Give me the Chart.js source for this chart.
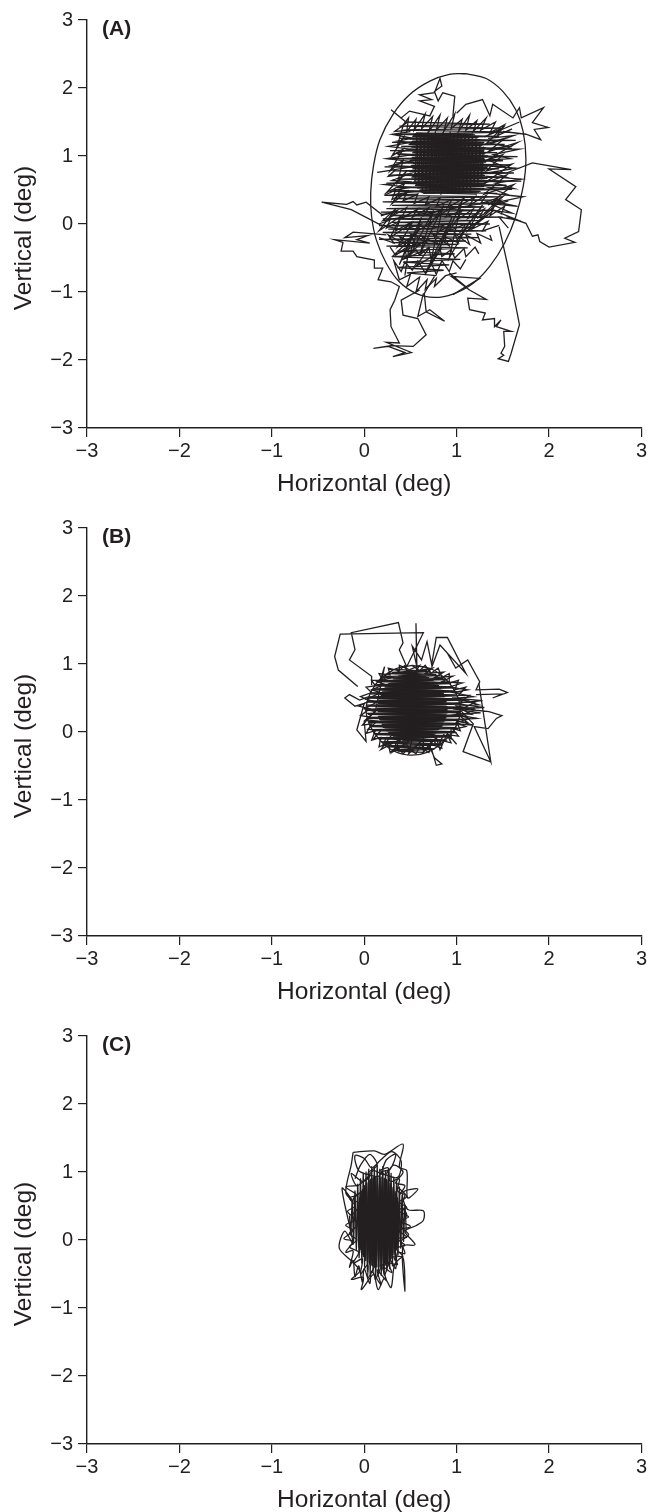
<!DOCTYPE html>
<html>
<head>
<meta charset="utf-8">
<style>
html, body { margin: 0; padding: 0; background: #fff; }
.panel { position: absolute; left: 0; width: 649px; height: 504px; }
</style>
<script src="https://cdn.jsdelivr.net/npm/chart.js@4/dist/chart.umd.min.js"></script>
</head>
<body>
<div class="panel" style="top:0"><canvas id="chartA" width="649" height="504"></canvas></div>
<div class="panel" style="top:508px"><canvas id="chartB" width="649" height="504"></canvas></div>
<div class="panel" style="top:1016px"><canvas id="chartC" width="649" height="504"></canvas></div>
<script>
// axis ticks and titles
const tickValues = [-3, -2, -1, 0, 1, 2, 3];
const xTitle = 'Horizontal (deg)';
const yTitle = 'Vertical (deg)';
const panelLabels = ['(A)', '(B)', '(C)'];

// fixation ellipses, [horizontal, vertical] in deg
const ellipseA = [[1.10,2.21],[1.32,2.14],[1.50,1.95],[1.64,1.68],[1.72,1.36],[1.75,0.95],[1.72,0.55],[1.64,0.11],[1.52,-0.28],[1.36,-0.62],[1.18,-0.87],[0.96,-1.03],[0.76,-1.08],[0.56,-1.02],[0.38,-0.85],[0.24,-0.58],[0.13,-0.23],[0.08,0.11],[0.07,0.46],[0.10,0.85],[0.17,1.24],[0.31,1.61],[0.49,1.90],[0.71,2.10],[0.92,2.20],[1.10,2.21]];
const ellipseB = [[0.52,0.98],[0.72,0.93],[0.88,0.78],[1.00,0.55],[1.04,0.30],[0.98,0.05],[0.85,-0.15],[0.68,-0.30],[0.50,-0.34],[0.32,-0.28],[0.17,-0.12],[0.06,0.10],[0.02,0.34],[0.07,0.58],[0.18,0.79],[0.34,0.93],[0.52,0.98]];

// panel A: eye trace pieces
const coreRowsA = [[0.56,1.34],[1.18,1.32],[0.53,1.30],[1.24,1.28],[0.50,1.26],[1.26,1.24],[0.52,1.22],[1.30,1.20],[0.49,1.18],[1.28,1.16],[0.52,1.14],[1.32,1.12],[0.50,1.10],[1.30,1.08],[0.53,1.06],[1.30,1.04],[0.50,1.02],[1.34,1.00],[0.52,0.98],[1.30,0.96],[0.50,0.94],[1.32,0.92],[0.54,0.90],[1.30,0.88],[0.51,0.86],[1.34,0.84],[0.53,0.82],[1.30,0.80],[0.50,0.78],[1.32,0.76],[0.54,0.74],[1.30,0.72],[0.52,0.70],[1.34,0.68],[0.55,0.66],[1.30,0.64],[0.53,0.62],[1.32,0.60],[0.56,0.58],[1.28,0.56],[0.58,0.54],[1.30,0.52],[0.60,0.50],[1.26,0.48],[0.62,0.46],[1.22,0.44]];
const coreRowsBackA = [[0.64,0.45],[1.24,0.47],[0.60,0.49],[1.27,0.51],[0.57,0.53],[1.30,0.55],[0.55,0.57],[1.31,0.59],[0.52,0.61],[1.30,0.63],[0.54,0.65],[1.33,0.67],[0.51,0.69],[1.31,0.71],[0.53,0.73],[1.32,0.75],[0.49,0.77],[1.31,0.79],[0.52,0.81],[1.33,0.83],[0.50,0.85],[1.31,0.87],[0.53,0.89],[1.32,0.91],[0.49,0.93],[1.31,0.95],[0.51,0.97],[1.33,0.99],[0.49,1.01],[1.31,1.03],[0.52,1.05],[1.29,1.07],[0.49,1.09],[1.31,1.11],[0.51,1.13],[1.27,1.15],[0.48,1.17],[1.29,1.19],[0.51,1.21],[1.25,1.23],[0.49,1.25],[1.23,1.27],[0.52,1.29],[1.20,1.31],[0.55,1.33]];
const coreColsA = [[0.55,0.62],[0.57,1.30],[0.59,0.56],[0.61,1.34],[0.63,0.50],[0.65,1.32],[0.67,0.48],[0.69,1.36],[0.71,0.46],[0.73,1.33],[0.75,0.44],[0.77,1.36],[0.79,0.46],[0.81,1.32],[0.83,0.43],[0.85,1.35],[0.87,0.46],[0.89,1.33],[0.91,0.44],[0.93,1.36],[0.95,0.47],[0.97,1.32],[0.99,0.45],[1.01,1.34],[1.03,0.48],[1.05,1.31],[1.07,0.46],[1.09,1.33],[1.11,0.50],[1.13,1.30],[1.15,0.48],[1.17,1.28],[1.19,0.54],[1.21,1.26],[1.23,0.60],[1.25,1.20],[1.27,0.66],[1.29,1.14]];
const wideRowsA = [[0.44,1.50],[1.36,1.47],[0.38,1.44],[1.48,1.41],[0.42,1.38],[1.58,1.35],[0.34,1.32],[1.46,1.29],[0.38,1.26],[1.64,1.23],[0.30,1.20],[1.52,1.17],[0.40,1.14],[1.60,1.11],[0.28,1.08],[1.44,1.05],[0.36,1.02],[1.66,0.99],[0.26,0.96],[1.50,0.93],[0.34,0.90],[1.58,0.87],[0.22,0.84],[1.46,0.81],[0.32,0.78],[1.62,0.75],[0.26,0.72],[1.48,0.69],[0.36,0.66],[1.70,0.63],[0.24,0.60],[1.54,0.57],[0.34,0.54],[1.60,0.51],[0.28,0.48],[1.44,0.45]];
const lowerRowsA = [[0.22,0.42],[1.50,0.40],[0.32,0.375],[1.38,0.35],[0.20,0.325],[1.46,0.30],[0.30,0.275],[1.30,0.25],[0.24,0.225],[1.42,0.20],[0.18,0.175],[1.28,0.15],[0.28,0.125],[1.50,0.10],[0.20,0.075],[1.24,0.05],[0.30,0.025],[1.36,0.00],[0.16,-0.025],[1.20,-0.05],[0.26,-0.075],[1.32,-0.10],[0.20,-0.125],[1.16,-0.15],[0.28,-0.175],[1.24,-0.20],[0.16,-0.225],[1.10,-0.25],[0.30,-0.275],[1.02,-0.30],[0.24,-0.325],[1.12,-0.35],[0.36,-0.40],[0.98,-0.44],[0.30,-0.48],[1.04,-0.52],[0.42,-0.56],[0.92,-0.60],[0.36,-0.64],[0.86,-0.68],[0.46,-0.72],[0.78,-0.76]];
const topBandA = [[0.40,1.42],[0.48,1.56],[0.46,1.36],[0.56,1.54],[0.54,1.38],[0.66,1.62],[0.62,1.40],[0.74,1.58],[0.70,1.36],[0.82,1.60],[0.78,1.38],[0.90,1.56],[0.86,1.36],[0.98,1.62],[0.94,1.40],[1.06,1.54],[1.02,1.36],[1.14,1.60],[1.10,1.38],[1.22,1.52],[1.18,1.36],[1.32,1.56],[1.26,1.38],[1.42,1.50],[1.36,1.34],[1.52,1.46],[1.44,1.30],[1.60,1.40]];
const rightBandA = [[1.34,1.26],[1.62,1.30],[1.36,1.18],[1.56,1.14],[1.32,1.10],[1.68,1.10],[1.40,1.02],[1.58,0.96],[1.34,0.94],[1.52,0.84],[1.30,0.86],[1.64,0.82],[1.38,0.76],[1.56,0.68],[1.32,0.70],[1.70,0.66],[1.42,0.60],[1.62,0.52],[1.34,0.54],[1.58,0.42],[1.30,0.46],[1.72,0.40],[1.44,0.32],[1.66,0.26],[1.36,0.30],[1.60,0.16],[1.40,0.20],[1.66,0.06],[1.46,0.10],[1.56,-0.06]];
const rightStreaksA = [[1.30,0.16],[1.50,0.40],[1.34,0.28],[1.62,0.58],[1.30,0.44],[1.54,0.72],[1.30,0.60],[1.60,0.88],[1.32,0.78],[1.50,1.02],[1.30,0.92],[1.66,1.20],[1.34,1.06],[1.52,1.26],[1.32,1.18],[1.50,1.42],[1.30,1.28],[1.68,1.50]];
const leftBandA = [[0.50,1.36],[0.30,1.32],[0.52,1.26],[0.36,1.22],[0.50,1.20],[0.26,1.14],[0.50,1.10],[0.34,1.04],[0.52,1.02],[0.24,0.96],[0.50,0.92],[0.30,0.86],[0.52,0.84],[0.14,0.76],[0.34,0.80],[0.26,0.70],[0.50,0.74],[0.30,0.64],[0.52,0.62],[0.22,0.58],[0.50,0.54],[0.32,0.50],[0.56,0.48],[0.26,0.42],[0.58,0.44]];
const leftStreaksA = [[0.42,1.44],[0.36,1.16],[0.44,1.30],[0.30,1.00],[0.42,1.10],[0.28,0.78],[0.42,0.94],[0.36,0.60],[0.46,0.78],[0.24,0.46],[0.44,0.60],[0.30,0.30],[0.48,0.50]];
const lowRow1A = [[0.22,0.42],[0.34,0.50],[0.30,0.36],[0.46,0.46],[0.42,0.34],[0.58,0.44],[0.54,0.30],[0.70,0.40],[0.66,0.28],[0.82,0.38],[0.78,0.26],[0.95,0.36],[0.90,0.24],[1.08,0.38],[1.02,0.26],[1.20,0.40],[1.14,0.28],[1.32,0.42],[1.26,0.30],[1.44,0.38],[1.38,0.26],[1.56,0.34]];
const lowRow2A = [[1.48,0.14],[1.52,0.26],[1.36,0.12],[1.40,0.24],[1.24,0.10],[1.30,0.22],[1.12,0.08],[1.18,0.22],[1.00,0.06],[1.06,0.20],[0.88,0.10],[0.94,0.24],[0.76,0.08],[0.82,0.20],[0.64,0.12],[0.70,0.24],[0.52,0.10],[0.58,0.22],[0.40,0.08],[0.46,0.24],[0.28,0.10],[0.36,0.20],[0.18,0.12]];
const lowRow3A = [[0.16,0.00],[0.28,0.06],[0.24,-0.06],[0.38,0.04],[0.34,-0.10],[0.50,0.02],[0.44,-0.08],[0.62,0.00],[0.56,-0.12],[0.74,0.04],[0.68,-0.08],[0.86,-0.02],[0.80,-0.12],[0.98,0.02],[0.92,-0.10],[1.10,0.00],[1.04,-0.12],[1.22,0.02],[1.16,-0.08],[1.34,0.04],[1.28,-0.10],[1.46,-0.02]];
const lowRow4A = [[1.36,-0.16],[1.38,-0.24],[1.22,-0.14],[1.26,-0.28],[1.10,-0.16],[1.14,-0.30],[0.98,-0.14],[1.02,-0.28],[0.86,-0.18],[0.92,-0.32],[0.74,-0.14],[0.80,-0.30],[0.62,-0.18],[0.68,-0.28],[0.50,-0.14],[0.56,-0.32],[0.38,-0.18],[0.44,-0.30],[0.26,-0.16],[0.32,-0.28],[0.16,-0.20]];
const lowRow5A = [[0.28,-0.34],[0.34,-0.46],[0.44,-0.36],[0.46,-0.50],[0.56,-0.38],[0.60,-0.46],[0.70,-0.34],[0.72,-0.50],[0.82,-0.36],[0.84,-0.48],[0.94,-0.38],[0.98,-0.50],[1.08,-0.36],[1.10,-0.48],[1.20,-0.34],[1.24,-0.44]];
const lowRow6A = [[1.10,-0.52],[1.04,-0.66],[0.96,-0.54],[0.92,-0.70],[0.84,-0.54],[0.78,-0.74],[0.72,-0.56],[0.66,-0.72],[0.58,-0.54],[0.52,-0.68],[0.44,-0.56],[0.40,-0.70],[0.32,-0.54],[0.38,-0.82],[0.50,-0.74],[0.46,-0.92],[0.60,-0.78],[0.56,-1.00],[0.68,-0.82],[0.66,-0.96],[0.78,-0.80],[0.76,-0.92],[0.88,-0.76],[1.00,-0.72]];
const lowerDiagA = [[0.44,-0.76],[0.50,-0.20],[0.38,-0.60],[0.62,0.10],[0.48,-0.50],[0.75,0.20],[0.60,-0.45],[0.85,0.25],[0.72,-0.55],[0.95,0.10],[0.80,-0.40],[1.05,0.30],[0.92,-0.50],[1.15,0.05],[1.00,-0.25],[1.28,0.28],[1.12,-0.10],[1.40,0.20],[1.20,0.00],[1.48,0.35],[0.20,0.05],[0.34,0.22],[0.16,-0.10],[0.40,0.12],[0.28,-0.20],[0.52,0.02],[0.36,-0.34],[0.58,-0.12],[0.32,-0.46],[0.62,-0.28],[0.42,-0.52],[0.70,-0.36],[0.56,-0.62],[0.78,-0.44],[0.66,-0.74],[0.84,-0.34]];
const rightLobeA = [[1.54,0.75],[1.82,0.90],[2.24,0.80],[2.00,0.81],[2.29,0.55],[2.18,0.36],[2.35,0.21],[2.32,-0.11],[2.17,-0.21],[2.28,-0.27],[2.00,-0.34],[1.90,-0.26],[1.88,-0.16],[1.82,-0.18],[1.75,0.01],[1.54,0.11]];
const rightTailA = [[1.46,-0.04],[1.57,-0.72],[1.68,-1.48],[1.59,-1.90],[1.56,-2.02],[1.45,-1.98],[1.51,-1.93],[1.48,-1.90],[1.52,-1.80],[1.51,-1.58],[1.59,-1.58],[1.43,-1.51],[1.48,-1.41],[1.41,-1.51],[1.41,-1.39],[1.28,-1.41],[1.31,-1.31],[1.14,-1.26],[1.12,-1.09],[1.32,-1.11],[1.14,-0.97],[0.94,-0.77],[1.25,-0.80],[0.96,-1.04],[1.10,-0.92],[0.92,-0.72]];
const leftArmA = [[0.31,0.16],[0.19,0.14],[0.02,0.32],[-0.08,0.28],[-0.12,0.33],[-0.19,0.29],[-0.46,0.32],[-0.14,0.21],[0.17,-0.01],[0.38,-0.08]];
const lowerLeftA = [[0.24,-0.16],[-0.12,-0.12],[-0.21,-0.20],[0.04,-0.17],[-0.08,-0.23],[0.06,-0.28],[-0.32,-0.23],[-0.23,-0.27],[-0.25,-0.40],[-0.12,-0.40],[-0.08,-0.48],[0.11,-0.53],[0.11,-0.65],[0.20,-0.65],[0.15,-0.82],[0.29,-0.85],[0.38,-0.92],[0.33,-1.12],[0.28,-1.26],[0.29,-1.51],[0.38,-1.75],[0.24,-1.74],[0.51,-1.89],[0.31,-1.95],[0.44,-1.89],[0.26,-1.80],[0.10,-1.83],[0.29,-1.79],[0.53,-1.80],[0.67,-1.63],[0.58,-1.39],[0.42,-1.34],[0.40,-1.12],[0.60,-0.97]];
const lowerMidA = [[0.64,-1.02],[0.58,-1.36],[0.71,-1.26],[0.87,-1.43],[0.67,-1.29],[0.65,-1.02],[0.76,-0.77]];
const topA = [[0.96,1.59],[0.98,1.88],[0.85,1.93],[0.80,1.81],[0.76,1.95],[0.84,2.03],[0.82,2.14],[0.76,1.93],[0.60,1.90],[0.73,1.83],[0.60,1.81],[0.76,1.73],[0.71,1.59],[0.49,1.66],[0.40,1.56],[0.29,1.68],[0.46,1.49],[0.33,1.36],[0.60,1.39]];
const topRightA = [[1.00,1.63],[1.10,1.76],[1.28,1.83],[1.36,1.59],[1.39,1.76],[1.61,1.56],[1.68,1.71],[1.70,1.56],[1.94,1.71],[1.82,1.49],[1.99,1.42],[1.84,1.39],[1.91,1.24],[1.75,1.32],[1.50,1.36]];
const traceA = [coreRowsA, coreRowsBackA, coreColsA, wideRowsA, lowerRowsA, topBandA, rightBandA, rightStreaksA, leftBandA, leftStreaksA, lowRow1A, lowRow2A, lowRow3A, lowRow4A, lowRow5A, lowRow6A, lowerDiagA, rightLobeA, rightTailA, leftArmA, lowerLeftA, lowerMidA, topA, topRightA];

// panel B: eye trace pieces
const coreRowsB = [[0.41,0.83],[0.67,0.81],[0.34,0.79],[0.73,0.77],[0.29,0.75],[0.77,0.73],[0.26,0.71],[0.80,0.69],[0.23,0.67],[0.82,0.65],[0.20,0.63],[0.85,0.61],[0.19,0.59],[0.86,0.57],[0.17,0.55],[0.88,0.53],[0.16,0.51],[0.89,0.49],[0.15,0.47],[0.89,0.45],[0.15,0.43],[0.90,0.41],[0.14,0.39],[0.90,0.37],[0.14,0.35],[0.90,0.33],[0.14,0.31],[0.90,0.29],[0.15,0.27],[0.89,0.25],[0.15,0.23],[0.89,0.21],[0.16,0.19],[0.88,0.17],[0.17,0.15],[0.86,0.13],[0.19,0.11],[0.85,0.09],[0.20,0.07],[0.82,0.05],[0.23,0.03],[0.80,0.01],[0.26,-0.01],[0.77,-0.03],[0.29,-0.05],[0.73,-0.07],[0.34,-0.09],[0.67,-0.11],[0.41,-0.13]];
const coreRowsBackB = [[0.62,-0.12],[0.37,-0.10],[0.70,-0.08],[0.31,-0.06],[0.75,-0.04],[0.27,-0.02],[0.79,0.00],[0.24,0.02],[0.81,0.04],[0.22,0.06],[0.84,0.08],[0.20,0.10],[0.85,0.12],[0.18,0.14],[0.87,0.16],[0.17,0.18],[0.88,0.20],[0.16,0.22],[0.89,0.24],[0.15,0.26],[0.90,0.28],[0.15,0.30],[0.90,0.32],[0.14,0.34],[0.90,0.36],[0.15,0.38],[0.89,0.40],[0.15,0.42],[0.89,0.44],[0.16,0.46],[0.88,0.48],[0.16,0.50],[0.87,0.52],[0.18,0.54],[0.86,0.56],[0.18,0.58],[0.85,0.60],[0.20,0.62],[0.83,0.64],[0.22,0.66],[0.81,0.68],[0.25,0.70],[0.78,0.72],[0.28,0.74],[0.75,0.76],[0.31,0.78],[0.70,0.80],[0.37,0.82],[0.62,0.84]];
const midRowsB = [[0.34,0.92],[0.72,0.89],[0.26,0.86],[0.82,0.83],[0.20,0.80],[0.90,0.77],[0.14,0.74],[0.94,0.71],[0.12,0.68],[1.00,0.65],[0.08,0.62],[1.06,0.59],[0.06,0.56],[1.02,0.53],[0.04,0.50],[1.14,0.47],[0.02,0.44],[1.06,0.41],[0.03,0.38],[1.20,0.35],[0.01,0.32],[1.04,0.29],[0.04,0.26],[1.12,0.23],[0.03,0.20],[1.02,0.17],[0.05,0.14],[1.08,0.11],[0.07,0.08],[0.98,0.05],[0.10,0.02],[1.00,-0.01],[0.12,-0.04],[0.94,-0.07],[0.16,-0.10],[0.90,-0.13],[0.20,-0.16],[0.84,-0.19],[0.26,-0.22],[0.76,-0.25],[0.36,-0.28],[0.64,-0.30]];
const midRowsBackB = [[0.54,-0.285],[0.30,-0.265],[0.72,-0.235],[0.22,-0.205],[0.80,-0.175],[0.18,-0.145],[0.88,-0.115],[0.14,-0.085],[0.92,-0.055],[0.10,-0.025],[0.98,0.005],[0.08,0.035],[1.00,0.065],[0.06,0.095],[1.02,0.125],[0.05,0.155],[1.04,0.185],[0.04,0.215],[1.06,0.245],[0.03,0.275],[1.04,0.305],[0.02,0.335],[1.06,0.365],[0.03,0.395],[1.02,0.425],[0.04,0.455],[1.04,0.485],[0.05,0.515],[1.00,0.545],[0.07,0.575],[0.98,0.605],[0.10,0.635],[0.96,0.665],[0.13,0.695],[0.92,0.725],[0.17,0.755],[0.86,0.785],[0.22,0.815],[0.78,0.845],[0.30,0.875],[0.68,0.905]];
const ringLap1B = [[0.52,0.98],[0.60,0.90],[0.66,0.98],[0.72,0.86],[0.80,0.94],[0.84,0.80],[0.92,0.86],[0.92,0.72],[1.02,0.76],[0.98,0.62],[1.10,0.66],[1.02,0.54],[1.14,0.54],[1.04,0.44],[1.20,0.44],[1.06,0.34],[1.18,0.32],[1.04,0.24],[1.14,0.20],[1.00,0.14],[1.10,0.08],[0.96,0.04],[1.02,-0.06],[0.90,-0.04],[0.94,-0.16],[0.82,-0.12],[0.84,-0.24],[0.72,-0.18],[0.70,-0.30],[0.60,-0.22],[0.56,-0.32],[0.48,-0.24],[0.42,-0.32],[0.36,-0.22],[0.28,-0.30],[0.26,-0.16],[0.16,-0.22],[0.18,-0.08],[0.08,-0.12],[0.12,0.02],[0.02,-0.02],[0.08,0.12],[-0.02,0.10],[0.06,0.22],[-0.04,0.24],[0.06,0.34],[-0.06,0.38],[0.06,0.46],[-0.04,0.52],[0.08,0.58],[0.02,0.66],[0.12,0.68],[0.08,0.76],[0.20,0.76],[0.16,0.86],[0.28,0.84],[0.26,0.94],[0.38,0.90],[0.38,0.98],[0.48,0.92]];
const ringLap2B = [[0.30,0.90],[0.22,0.82],[0.30,0.80],[0.14,0.74],[0.22,0.70],[0.08,0.62],[0.18,0.58],[0.02,0.48],[0.14,0.44],[0.00,0.34],[0.12,0.30],[0.02,0.18],[0.14,0.16],[0.04,0.04],[0.18,0.02],[0.10,-0.10],[0.24,-0.08],[0.20,-0.20],[0.34,-0.14],[0.34,-0.26],[0.46,-0.18],[0.50,-0.28],[0.60,-0.16],[0.66,-0.26],[0.74,-0.12],[0.80,-0.20],[0.86,-0.04],[0.94,-0.10],[0.94,0.06],[1.04,0.02],[1.00,0.16],[1.12,0.14],[1.00,0.28],[1.16,0.26],[1.00,0.38],[1.24,0.40],[1.00,0.50],[1.18,0.52],[0.96,0.58],[1.12,0.62],[0.92,0.66],[1.06,0.72],[0.84,0.74],[0.96,0.82],[0.76,0.80],[0.86,0.88],[0.66,0.86],[0.74,0.94],[0.56,0.90],[0.60,0.98],[0.46,0.90],[0.44,0.98],[0.36,0.88]];
const rightStreaksB = [[0.95,0.50],[1.28,0.46],[0.98,0.42],[1.30,0.36],[0.96,0.34],[1.26,0.28],[0.98,0.26],[1.22,0.20],[0.96,0.18],[1.18,0.10],[0.94,0.12]];
const bottomRingB = [[0.30,-0.04],[0.18,-0.26],[0.40,-0.10],[0.30,-0.30],[0.52,-0.10],[0.48,-0.32],[0.64,-0.10],[0.64,-0.30],[0.78,-0.08],[0.82,-0.26],[0.90,-0.02],[1.00,-0.18]];
const upperLeftB = [[0.08,0.69],[0.08,0.82],[-0.16,1.06],[-0.10,1.21],[-0.14,1.46],[0.37,1.61],[0.42,1.31],[0.38,1.21],[0.46,0.96],[0.64,1.46],[-0.26,1.44],[-0.32,1.11],[-0.28,0.91],[-0.07,0.67]];
const spikesB = [[0.57,0.80],[0.56,1.60],[0.57,0.96],[0.52,1.26],[0.62,1.06],[0.68,1.33],[0.73,0.99],[0.78,1.39],[0.90,1.39],[1.10,0.86],[0.82,1.28],[0.73,0.95],[0.82,1.28],[0.90,1.16],[0.99,0.94],[1.12,1.06],[1.25,0.74],[1.21,0.62],[1.46,0.63],[1.55,0.58],[1.39,0.50],[1.50,0.56],[1.21,0.55]];
const rightB = [[1.24,0.72],[1.37,-0.44],[1.19,0.08],[1.34,0.05],[1.43,0.20],[1.49,0.24],[1.35,0.30],[1.21,0.32],[1.00,0.38],[1.18,0.12],[1.07,-0.29],[1.37,-0.44]];
const bottomB = [[0.70,-0.20],[0.73,-0.26],[0.78,-0.49],[0.84,-0.47],[0.76,-0.38],[0.72,-0.25]];
const leftB = [[0.05,0.52],[-0.05,0.47],[-0.16,0.55],[-0.21,0.50],[-0.10,0.38],[0.00,0.42],[-0.08,0.03],[0.02,-0.14],[0.00,0.16],[0.12,0.30],[0.22,0.96],[0.17,0.74],[0.25,0.82]];
const traceB = [coreRowsB, coreRowsBackB, midRowsB, midRowsBackB, ringLap1B, ringLap2B, rightStreaksB, bottomRingB, upperLeftB, spikesB, rightB, bottomB, leftB];

// panel C: eye trace pieces
const coreColsC = [[-0.073,0.47],[-0.061,-0.03],[-0.049,0.62],[-0.037,-0.14],[-0.025,0.71],[-0.013,-0.21],[-0.001,0.77],[0.011,-0.27],[0.023,0.83],[0.035,-0.32],[0.047,0.86],[0.059,-0.35],[0.071,0.89],[0.083,-0.37],[0.095,0.91],[0.107,-0.39],[0.119,0.93],[0.131,-0.40],[0.143,0.93],[0.155,-0.41],[0.167,0.93],[0.179,-0.40],[0.191,0.93],[0.203,-0.39],[0.215,0.91],[0.227,-0.37],[0.239,0.89],[0.251,-0.35],[0.263,0.86],[0.275,-0.32],[0.287,0.83],[0.299,-0.27],[0.311,0.77],[0.323,-0.21],[0.335,0.71],[0.347,-0.14],[0.359,0.62],[0.371,-0.03],[0.383,0.47]];
const coreColsBackC = [[0.377,0.10],[0.365,0.56],[0.353,-0.10],[0.341,0.67],[0.329,-0.18],[0.317,0.74],[0.305,-0.24],[0.293,0.80],[0.281,-0.30],[0.269,0.84],[0.257,-0.34],[0.245,0.88],[0.233,-0.36],[0.221,0.90],[0.209,-0.38],[0.197,0.92],[0.185,-0.40],[0.173,0.93],[0.161,-0.40],[0.149,0.93],[0.137,-0.40],[0.125,0.93],[0.113,-0.40],[0.101,0.92],[0.089,-0.38],[0.077,0.90],[0.065,-0.36],[0.053,0.88],[0.041,-0.34],[0.029,0.84],[0.017,-0.30],[0.005,0.80],[-0.007,-0.24],[-0.019,0.74],[-0.031,-0.18],[-0.043,0.67],[-0.055,-0.10],[-0.067,0.56]];
const midColsC = [[-0.16,0.36],[-0.145,0.12],[-0.13,0.58],[-0.115,-0.02],[-0.10,0.72],[-0.085,-0.14],[-0.07,0.82],[-0.055,-0.26],[-0.04,0.90],[-0.025,-0.34],[-0.01,0.98],[0.005,-0.40],[0.02,1.00],[0.035,-0.46],[0.05,1.04],[0.065,-0.50],[0.08,1.08],[0.095,-0.48],[0.11,1.06],[0.125,-0.54],[0.14,1.10],[0.155,-0.50],[0.17,1.04],[0.185,-0.52],[0.20,1.08],[0.215,-0.48],[0.23,1.02],[0.245,-0.46],[0.26,1.04],[0.275,-0.42],[0.29,0.98],[0.305,-0.38],[0.32,0.92],[0.335,-0.30],[0.35,0.86],[0.365,-0.22],[0.38,0.78],[0.395,-0.12],[0.41,0.66],[0.425,-0.02],[0.44,0.50],[0.455,0.14]];
const topLoopsC = [[-0.10,0.90],[-0.04,1.10],[0.06,1.26],[0.14,1.10],[0.04,0.98],[0.16,0.94],[0.24,1.18],[0.34,1.26],[0.28,1.04],[0.18,1.00],[0.36,0.92],[0.40,1.16],[0.30,1.30],[0.18,1.18],[0.08,1.06],[0.00,1.20],[-0.10,1.24],[-0.06,1.02],[0.06,0.94],[-0.02,0.86],[-0.14,0.98],[-0.08,0.80],[0.02,0.90],[0.10,1.02],[0.22,0.96],[0.32,1.10],[0.42,1.00],[0.34,0.84],[0.44,0.80],[0.38,0.66]];
const sideLapC = [[0.36,0.78],[0.46,0.64],[0.38,0.56],[0.46,0.48],[0.36,0.44],[0.48,0.34],[0.38,0.28],[0.50,0.20],[0.38,0.14],[0.46,0.04],[0.36,0.02],[0.44,-0.08],[0.34,-0.12],[0.42,-0.24],[0.32,-0.24],[0.36,-0.36],[0.26,-0.34],[0.30,-0.48],[0.20,-0.40],[0.24,-0.60],[0.14,-0.44],[0.18,-0.66],[0.08,-0.46],[0.06,-0.64],[0.00,-0.42],[-0.02,-0.62],[-0.06,-0.38],[-0.10,-0.54],[-0.12,-0.30],[-0.16,-0.40],[-0.12,-0.16],[-0.20,-0.18],[-0.12,-0.02],[-0.22,0.02],[-0.12,0.14],[-0.20,0.22],[-0.10,0.30],[-0.18,0.42],[-0.10,0.50],[-0.16,0.62],[-0.08,0.66],[-0.20,0.78],[-0.06,0.80]];
const innerLapC = [[-0.02,0.72],[-0.12,0.60],[-0.04,0.52],[-0.14,0.34],[-0.06,0.24],[-0.16,0.10],[-0.08,0.00],[-0.16,-0.10],[-0.06,-0.18],[-0.12,-0.34],[-0.02,-0.28],[-0.04,-0.50],[0.04,-0.36],[0.04,-0.56],[0.12,-0.38],[0.12,-0.58],[0.20,-0.36],[0.22,-0.52],[0.28,-0.30],[0.34,-0.42],[0.36,-0.18],[0.44,-0.20],[0.40,-0.02],[0.48,0.08],[0.40,0.20],[0.46,0.38],[0.40,0.50],[0.44,0.66],[0.36,0.72],[0.38,0.90],[0.28,0.86],[0.26,1.06],[0.16,1.02]];
const outlineC = [[-0.12,1.29],[0.11,1.31],[0.22,1.26],[0.42,1.41],[0.38,1.07],[0.46,1.02],[0.47,0.62],[0.58,0.75],[0.42,0.70],[0.47,0.45],[0.64,0.43],[0.64,0.29],[0.56,0.21],[0.44,0.13],[0.55,-0.07],[0.42,-0.09],[0.44,-0.75],[0.42,-0.26],[0.33,-0.36],[0.29,-0.70],[0.22,-0.56],[0.15,-0.73],[0.10,-0.51],[-0.03,-0.73],[-0.01,-0.55],[-0.14,-0.58],[-0.05,-0.46],[-0.12,-0.33],[-0.27,-0.12],[-0.21,0.13],[-0.12,-0.06],[-0.24,0.76],[-0.12,0.57],[-0.20,0.70],[-0.14,1.11],[-0.12,1.29]];
const traceC = [coreColsC, coreColsBackC, midColsC, topLoopsC, sideLapC, innerLapC, outlineC];

const ink = '#231f20';
const fontFamily = '"Liberation Sans", Arial, sans-serif';

function toPoints(list) {
    return list.map(p => ({ x: p[0], y: p[1] }));
}

function lineDataset(list, tension) {
    return {
        data: toPoints(list),
        showLine: true,
        borderColor: ink,
        borderWidth: 1.3,
        pointRadius: 0,
        tension: tension,
        fill: false
    };
}

function axisOptions(isX) {
    return {
        type: 'linear',
        min: -3,
        max: 3,
        afterBuildTicks: axis => { axis.ticks = tickValues.map(v => ({ value: v })); },
        afterFit: axis => {
            if (isX) axis.height = 76; else axis.width = 87;
        },
        border: { color: ink, width: 1.4 },
        grid: { drawOnChartArea: false, drawTicks: true, tickLength: 9, color: ink, lineWidth: 1.2 },
        ticks: {
            color: ink,
            padding: isX ? 2 : 5,
            maxRotation: 0,
            autoSkip: false,
            font: { family: fontFamily, size: 20 },
            callback: v => String(v).replace('-', '\u2212')
        },
        title: {
            display: isX,
            text: xTitle,
            color: ink,
            font: { family: fontFamily, size: 24.5 },
            padding: { top: 0, bottom: 5 }
        }
    };
}

function drawPanel(canvasId, label, pieces, ellipse, tension) {
    const datasets = pieces.map(piece => lineDataset(piece, tension));
    if (ellipse) datasets.push(lineDataset(ellipse, 0.4));
    new Chart(document.getElementById(canvasId), {
        type: 'scatter',
        data: { datasets },
        options: {
            responsive: false,
            animation: false,
            layout: { padding: { top: 20, right: 7, left: 0, bottom: 0 } },
            plugins: { legend: { display: false }, tooltip: { enabled: false } },
            scales: { x: axisOptions(true), y: axisOptions(false) }
        },
        plugins: [{
            id: 'panelText',
            afterDraw(chart) {
                const c = chart.ctx;
                const area = chart.chartArea;
                c.save();
                c.fillStyle = ink;
                c.font = 'bold 21px ' + fontFamily;
                c.textBaseline = 'middle';
                c.fillText(label, area.left + 15, area.top + 9);
                // the y title sits lower than the axis middle in the original
                c.translate(24, (area.top + area.bottom) / 2 + 14);
                c.rotate(-Math.PI / 2);
                c.font = '24.5px ' + fontFamily;
                c.textAlign = 'center';
                c.fillText(yTitle, 0, 0);
                c.restore();
            }
        }]
    });
}

drawPanel('chartA', panelLabels[0], traceA, ellipseA, 0);
drawPanel('chartB', panelLabels[1], traceB, ellipseB, 0);
drawPanel('chartC', panelLabels[2], traceC, null, 0.3);
</script>
</body>
</html>
